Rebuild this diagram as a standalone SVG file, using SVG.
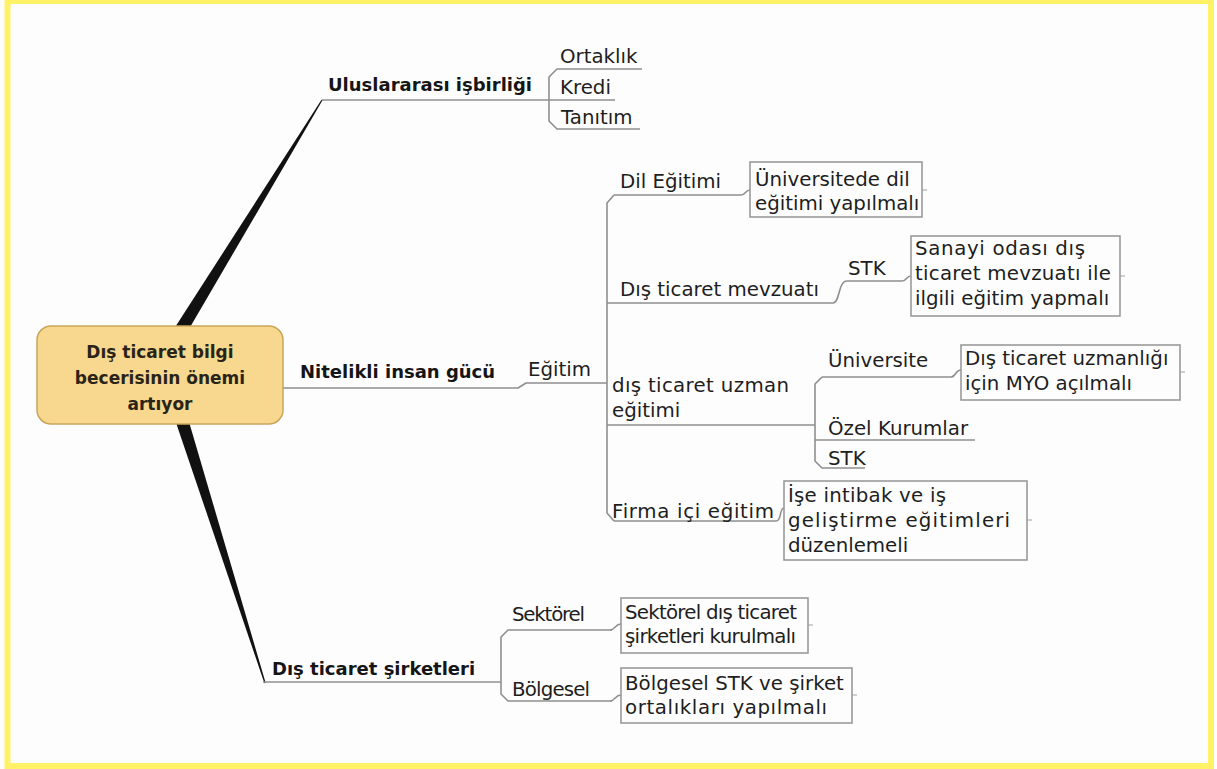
<svg xmlns="http://www.w3.org/2000/svg" width="1217" height="769" viewBox="0 0 1217 769">
  <style>
    .t { font-family: "DejaVu Sans", "Liberation Sans", sans-serif; font-size: 19.8px; fill: #1e1e1e; }
    .b { font-family: "DejaVu Sans", "Liberation Sans", sans-serif; font-size: 18px; font-weight: bold; fill: #151515; }
    .c { font-family: "DejaVu Sans", "Liberation Sans", sans-serif; font-size: 17px; font-weight: bold; fill: #2a2418; }
    .ln { fill: none; stroke: #8f8f8f; stroke-width: 1.6; stroke-linejoin: round; }
    .box { fill: #fdfdfd; stroke: #9a9a9a; stroke-width: 1.6; }
    .stub { stroke: #b0b0b0; stroke-width: 1.2; }
    .taper { fill: #111; }
  </style>

  <!-- page background and frame -->
  <rect x="0" y="0" width="1217" height="769" fill="#fdfdfd"/>
  <rect x="7.5" y="1" width="1203.5" height="765" fill="none" stroke="#fff266" stroke-width="6"/>

  <!-- connectors -->
  <g id="connectors">
    <!-- tapered main branches -->
    <polygon class="taper" points="163,346 321.5,99.7 322.5,100.3 175,353"/>
    <polygon class="taper" points="169,402 264.4,683.2 265.6,682.8 182,398"/>

    <!-- Uluslararası işbirliği -->
    <path class="ln" d="M 322 100 L 615 100"/>
    <path class="ln" d="M 642 69 L 557 69 L 549 77 L 549 121 L 557 129 L 640 129"/>

    <!-- Nitelikli insan gücü / Eğitim -->
    <path class="ln" d="M 283 388 L 518 388 L 526 383 L 607 383"/>
    <path class="ln" d="M 614 195 L 607 203 L 607 513 L 614 521"/>
    <path class="ln" d="M 614 195 L 741 195 C 746 195 745 190 750 190"/>
    <path class="ln" d="M 607 303 L 833 303 C 840 303 838 281 847 281 L 902 281 C 907 281 906 276 911 276"/>
    <path class="ln" d="M 607 425 L 815 425"/>
    <path class="ln" d="M 822 377 L 815 384 L 815 461 L 822 468 L 865 468"/>
    <path class="ln" d="M 822 377 L 951 377 C 956 377 955 370 961 370"/>
    <path class="ln" d="M 815 440 L 975 440"/>
    <path class="ln" d="M 614 521 L 776 521 C 782 521 779 508 784 508"/>

    <!-- Dış ticaret şirketleri -->
    <path class="ln" d="M 263 682 L 501 682"/>
    <path class="ln" d="M 612 630 L 508 630 L 501 637 L 501 694 L 508 701 L 612 701"/>
    <path class="ln" d="M 610 630 C 615 630 615 624 621 624"/>
    <path class="ln" d="M 610 701 C 615 701 615 695 621 695"/>

    <!-- small stubs on the right of leaf boxes -->
    <line class="stub" x1="922" y1="190" x2="927" y2="190"/>
    <line class="stub" x1="1120" y1="276" x2="1125" y2="276"/>
    <line class="stub" x1="1180" y1="372" x2="1185" y2="372"/>
    <line class="stub" x1="1027" y1="520" x2="1032" y2="520"/>
    <line class="stub" x1="808" y1="625" x2="813" y2="625"/>
    <line class="stub" x1="852" y1="695" x2="857" y2="695"/>
  </g>

  <!-- central topic -->
  <g id="center">
    <rect x="37" y="326" width="246" height="98" rx="14" fill="#f8d88e" stroke="#c9a55a" stroke-width="1.5"/>
    <text class="c" x="160" y="358" text-anchor="middle">Dış ticaret bilgi</text>
    <text class="c" x="160" y="384" text-anchor="middle">becerisinin önemi</text>
    <text class="c" x="160" y="410" text-anchor="middle">artıyor</text>
  </g>

  <!-- main topics -->
  <g id="uluslararasi"><text class="b" x="328" y="91">Uluslararası işbirliği</text></g>
  <g id="nitelikli"><text class="b" x="300" y="378">Nitelikli insan gücü</text></g>
  <g id="sirketler"><text class="b" x="272" y="675">Dış ticaret şirketleri</text></g>

  <!-- subtopics of Uluslararası işbirliği -->
  <g id="ortaklik"><text class="t" x="560" y="63">Ortaklık</text></g>
  <g id="kredi"><text class="t" x="560" y="94">Kredi</text></g>
  <g id="tanitim"><text class="t" x="561" y="124">Tanıtım</text></g>

  <!-- Nitelikli insan gücü branch -->
  <g id="egitim"><text class="t" x="528" y="376">Eğitim</text></g>
  <g id="dil-egitimi"><text class="t" x="620" y="188">Dil Eğitimi</text></g>
  <g id="universitede-dil">
    <rect class="box" x="750" y="162" width="172" height="55"/>
    <text class="t" x="755" y="186">Üniversitede dil</text>
    <text class="t" x="755" y="210">eğitimi yapılmalı</text>
  </g>
  <g id="mevzuat"><text class="t" x="620" y="296">Dış ticaret mevzuatı</text></g>
  <g id="stk-1"><text class="t" x="848" y="275">STK</text></g>
  <g id="sanayi-odasi">
    <rect class="box" x="911" y="236" width="209" height="80"/>
    <text class="t" x="915" y="255" textLength="170" lengthAdjust="spacing">Sanayi odası dış</text>
    <text class="t" x="915" y="280" textLength="196" lengthAdjust="spacing">ticaret mevzuatı ile</text>
    <text class="t" x="915" y="305">ilgili eğitim yapmalı</text>
  </g>
  <g id="uzman-egitimi">
    <text class="t" x="612" y="392" textLength="177" lengthAdjust="spacing">dış ticaret uzman</text>
    <text class="t" x="612" y="417">eğitimi</text>
  </g>
  <g id="universite"><text class="t" x="828" y="367">Üniversite</text></g>
  <g id="myo">
    <rect class="box" x="961" y="345" width="219" height="55"/>
    <text class="t" x="965" y="365">Dış ticaret uzmanlığı</text>
    <text class="t" x="965" y="390">için MYO açılmalı</text>
  </g>
  <g id="ozel-kurumlar"><text class="t" x="828" y="435">Özel Kurumlar</text></g>
  <g id="stk-2"><text class="t" x="828" y="465">STK</text></g>
  <g id="firma-ici"><text class="t" x="612" y="518" textLength="162" lengthAdjust="spacing">Firma içi eğitim</text></g>
  <g id="ise-intibak">
    <rect class="box" x="784" y="481" width="243" height="79"/>
    <text class="t" x="788" y="502" textLength="158" lengthAdjust="spacing">İşe intibak ve iş</text>
    <text class="t" x="788" y="527" textLength="222" lengthAdjust="spacing">geliştirme eğitimleri</text>
    <text class="t" x="788" y="552">düzenlemeli</text>
  </g>

  <!-- Dış ticaret şirketleri branch -->
  <g id="sektorel"><text class="t" x="512" y="621" textLength="73" lengthAdjust="spacing">Sektörel</text></g>
  <g id="sektorel-box">
    <rect class="box" x="621" y="598" width="187" height="55"/>
    <text class="t" x="625" y="619" textLength="172" lengthAdjust="spacing">Sektörel dış ticaret</text>
    <text class="t" x="625" y="643" textLength="171" lengthAdjust="spacing">şirketleri kurulmalı</text>
  </g>
  <g id="bolgesel"><text class="t" x="512" y="696" textLength="78" lengthAdjust="spacing">Bölgesel</text></g>
  <g id="bolgesel-box">
    <rect class="box" x="621" y="668" width="231" height="55"/>
    <text class="t" x="625" y="690">Bölgesel STK ve şirket</text>
    <text class="t" x="625" y="714" textLength="202" lengthAdjust="spacing">ortalıkları yapılmalı</text>
  </g>
</svg>
